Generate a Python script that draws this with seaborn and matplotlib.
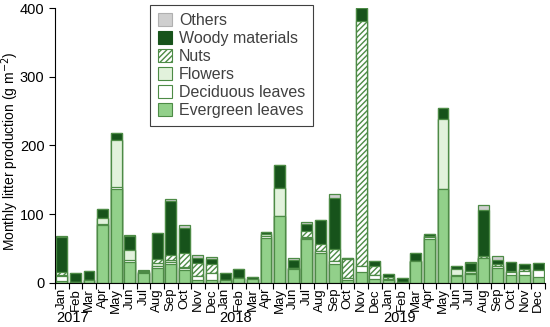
import numpy as np
import pandas as pd
import seaborn as sns
import matplotlib.pyplot as plt
from matplotlib.patches import Patch

# 月度凋落物数据 (g m-2)，2017-01 到 2019-12
months = ['Jan', 'Feb', 'Mar', 'Apr', 'May', 'Jun',
          'Jul', 'Aug', 'Sep', 'Oct', 'Nov', 'Dec'] * 3
years = ['2017', '2018', '2019']

evergreen = [3, 1, 5, 85, 136, 30, 14, 22, 27, 19, 5, 5,
             5, 7, 6, 65, 97, 21, 64, 43, 27, 5, 16, 6,
             4, 2, 32, 64, 137, 10, 13, 36, 22, 12, 11, 9]
deciduous = [7, 0, 0, 1, 3, 4, 1, 2, 4, 3, 5, 10,
             0, 0, 0, 3, 0, 1, 2, 3, 5, 2, 9, 6,
             2, 0, 0, 3, 0, 2, 2, 0, 2, 4, 6, 10]
flowers = [1, 0, 0, 9, 69, 14, 1, 5, 3, 1, 0, 0,
           0, 0, 0, 3, 41, 0, 1, 0, 0, 0, 0, 0,
           0, 0, 0, 1, 102, 8, 2, 0, 1, 0, 0, 0]
nuts = [5, 0, 0, 0, 0, 0, 0, 6, 7, 20, 19, 12,
        0, 0, 0, 0, 0, 0, 8, 10, 17, 28, 356, 13,
        2, 0, 0, 0, 0, 0, 0, 3, 3, 2, 3, 0]
woody = [51, 13, 12, 12, 10, 21, 2, 37, 78, 37, 8, 8,
         10, 14, 2, 3, 33, 12, 11, 36, 74, 2, 19, 7,
         5.5, 5, 12, 3, 16, 4, 12, 67, 6, 13, 7, 10]
others = [1, 0.5, 0, 0.5, 0, 1, 1, 1, 3, 4, 3, 3,
          0, 0, 0, 0, 0, 2, 2, 0, 7, 0, 0, 0,
          0, 0, 0, 0, 0, 0, 2, 7, 5, 0, 0, 0]

df = pd.DataFrame({'idx': range(36), 'Evergreen leaves': evergreen,
                   'Deciduous leaves': deciduous, 'Flowers': flowers,
                   'Nuts': nuts, 'Woody materials': woody, 'Others': others})

layers = ['Evergreen leaves', 'Deciduous leaves', 'Flowers',
          'Nuts', 'Woody materials', 'Others']
colors = {'Evergreen leaves': '#92d08a', 'Deciduous leaves': '#ffffff',
          'Flowers': '#e2f2dc', 'Nuts': '#ffffff',
          'Woody materials': '#17531b', 'Others': '#cfcfcf'}
hatches = {'Nuts': '//////'}
edge = '#4d8b46'

plt.rcParams['font.family'] = ['Liberation Sans', 'DejaVu Sans']
plt.rcParams['hatch.linewidth'] = 1.0

fig = plt.figure(figsize=(5.5, 3.27), dpi=100)
ax = fig.add_axes([0.1, 0.1346, 0.891, 0.8409])

# 累计高度，从顶层往下画，下层覆盖上层
cum = df[layers].cumsum(axis=1)
for name in reversed(layers):
    sns.barplot(x=df['idx'], y=cum[name], ax=ax, color=colors[name],
                saturation=1, errorbar=None, width=0.8,
                edgecolor=edge, linewidth=0.9, hatch=hatches.get(name))

ax.set_xlim(-0.5, 35.5)
ax.set_ylim(0, 400)
ax.set_yticks([0, 100, 200, 300, 400])
# 刻度线放在柱子之间，月份标签单独竖排写
ax.set_xticks(np.arange(-0.5, 36, 1))
ax.set_xticklabels([])
ax.tick_params(axis='x', length=4, width=0.8)
ax.tick_params(axis='y', length=4, width=0.8, labelsize=10.5)
for i, m in enumerate(months):
    ax.text(i, -0.018, m, transform=ax.get_xaxis_transform(), rotation=90,
            ha='center', va='top', fontsize=9.5)
ax.set_xlabel('')
ax.set_ylabel('Monthly litter production (g m$^{-2}$)', fontsize=10)
ax.yaxis.set_label_coords(-0.069, 0.48)
for s in ['top', 'right']:
    ax.spines[s].set_visible(False)

for i, yr in enumerate(years):
    ax.text(i * 12 - 0.4, -0.127, yr, transform=ax.get_xaxis_transform(),
            ha='left', va='center', fontsize=10.5)

handles = [Patch(facecolor=colors[n], edgecolor=edge if n != 'Woody materials' else '#17531b',
                 hatch=hatches.get(n), label=n, linewidth=0.8)
           for n in reversed(layers)]
handles[0].set_edgecolor('#b0b0b0')
leg = ax.legend(handles=handles, loc='upper left', bbox_to_anchor=(0.194, 1.012),
                fontsize=11.5, handlelength=0.9, handleheight=0.9, labelspacing=0.18,
                handletextpad=0.4, fancybox=False, edgecolor='#404040',
                borderpad=0.5, borderaxespad=0, framealpha=1)
leg.get_frame().set_linewidth(0.8)
for t in leg.get_texts():
    t.set_color('#404040')

fig.savefig('out.png', dpi=100)
